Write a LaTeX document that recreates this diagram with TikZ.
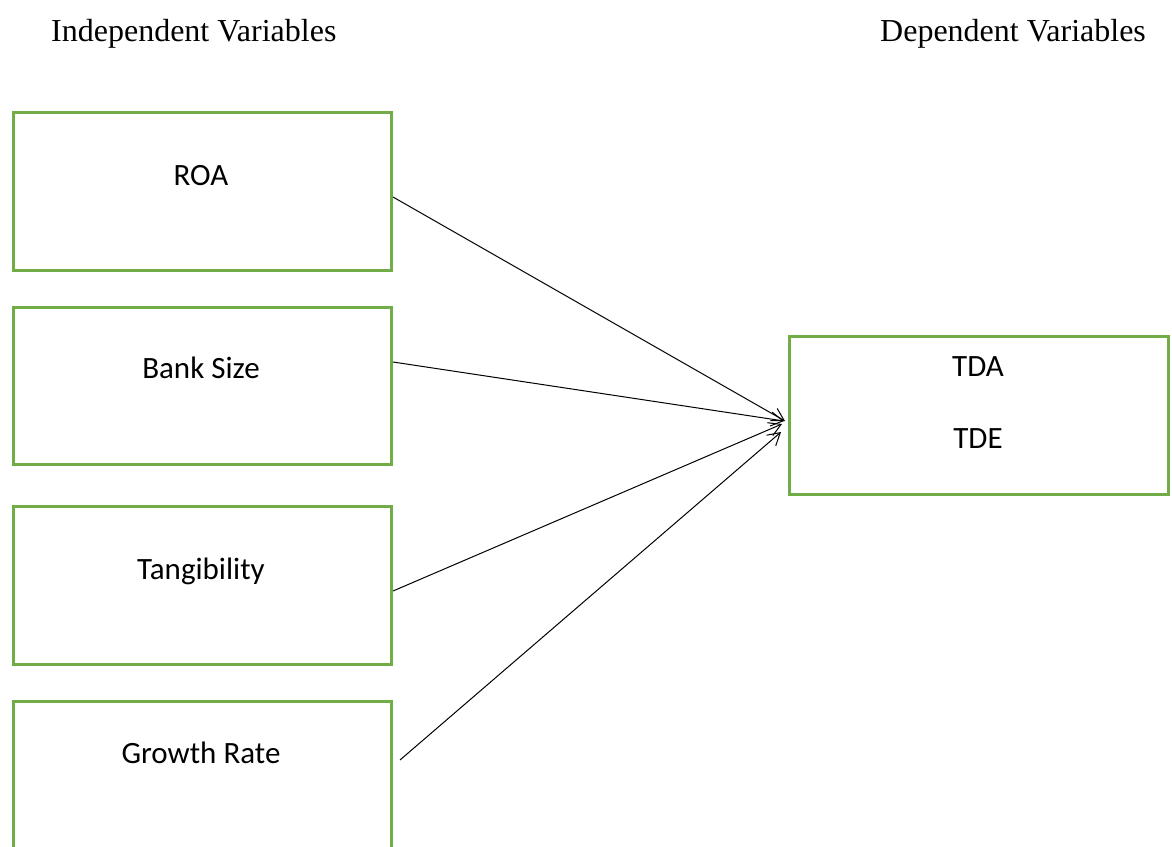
\documentclass[tikz,border=0pt]{standalone}
\usepackage{fontspec}
\setmainfont{Liberation Serif}
\newfontfamily\boxfont{Carlito}
\usetikzlibrary{arrows.meta,calc}
\definecolor{boxgreen}{HTML}{70AD47}
\begin{document}
\begin{tikzpicture}[x=1pt,y=-1pt,
  varbox/.style={draw=boxgreen,line width=3pt,minimum width=378pt,inner sep=0pt,anchor=north west},
  boxtext/.style={font=\boxfont\fontsize{31}{37}\selectfont,anchor=base,inner sep=0pt},
  headtext/.style={font=\fontsize{32}{38}\selectfont,anchor=base west,inner sep=0pt},
  arr/.style={line width=1pt,-{Straight Barb[length=12pt,width=14pt,line width=1pt]}}]
\useasboundingbox (0,0) rectangle (1172,846);
\node[headtext] (hind) at (51,41) {Independent Variables};
\node[headtext] (hdep) at (880,41) {Dependent Variables};
\node[varbox,minimum height=158pt] (roa) at (12,111) {};
\node[varbox,minimum height=157pt] (bank) at (12,306) {};
\node[varbox,minimum height=158pt] (tang) at (12,505) {};
\node[varbox,minimum height=170pt] (grow) at (12,700) {};
\node[varbox,minimum width=379pt,minimum height=158pt] (dep) at (788,335) {};
\node[boxtext] (troa) at (201,185) {ROA};
\node[boxtext] (tbank) at (201,378) {Bank Size};
\node[boxtext] (ttang) at (201,579) {Tangibility};
\node[boxtext] (tgrow) at (201,763) {Growth Rate};
\node[boxtext] (ttda) at (978,376) {TDA};
\node[boxtext] (ttde) at (978,448) {TDE};
\draw[arr] ($(roa.north east)+(0,86)$) -- ($(dep.north west)+(-3,86)$);
\draw[arr] ($(bank.north east)+(0,56)$) -- ($(dep.north west)+(-4,86)$);
\draw[arr] ($(tang.north east)+(0,86)$) -- ($(dep.north west)+(-6,89)$);
\draw[arr] ($(grow.north east)+(7,60)$) -- ($(dep.north west)+(-7,97)$);
\end{tikzpicture}
\end{document}
